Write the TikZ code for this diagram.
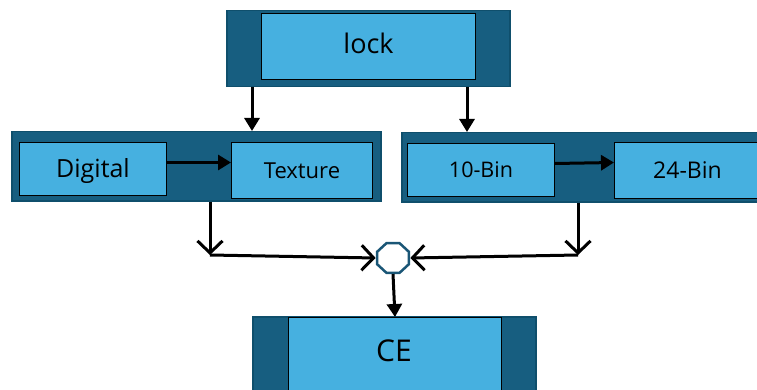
\documentclass[tikz,border=0pt]{standalone}
\usepackage{fontspec}
\setmainfont{Open Sans}
\usetikzlibrary{arrows.meta,shapes.geometric}
\definecolor{outerc}{HTML}{175E80}
\definecolor{outerb}{HTML}{0F4F6C}
\definecolor{innerc}{HTML}{46B0E0}
\definecolor{octc}{HTML}{1A5676}
\tikzset{
  outerbox/.style={draw=outerb, line width=1.5pt, fill=outerc, inner sep=0pt, anchor=north west},
  innerbox/.style={draw=black, line width=1pt, fill=innerc, inner sep=0pt, anchor=north west, text=black, text depth=0pt},
  solidarrow/.style={line width=3pt, -{Triangle[length=13pt,width=15pt]}},
  openarrow/.style={line width=3pt, -{Straight Barb[length=12pt,width=25pt,line width=3pt]}},
}
\begin{document}
\begin{tikzpicture}[x=1pt,y=-1pt]
\useasboundingbox (0,0) rectangle (757,390);
\clip (0,0) rectangle (757,390);
% top
\node[outerbox, minimum width=283pt, minimum height=76pt] (lockout) at (226,10) {};
\node[innerbox, minimum width=214pt, minimum height=66pt, font=\fontsize{27}{30}\selectfont, text height=15pt] (lock) at (261,13) {lock};
% left middle
\node[outerbox, minimum width=369pt, minimum height=69pt] (leftout) at (11,131) {};
\node[innerbox, minimum width=147pt, minimum height=53pt, font=\fontsize{25}{28}\selectfont, text height=17.9pt] (dig) at (19,142) {Digital};
\node[innerbox, minimum width=141pt, minimum height=56pt, font=\fontsize{22}{26}\selectfont, text height=15.7pt] (tex) at (231,142) {Texture};
% right middle
\node[outerbox, minimum width=369pt, minimum height=69pt] (rightout) at (401,132) {};
\node[innerbox, minimum width=147pt, minimum height=53pt, font=\fontsize{21.5}{24}\selectfont, text height=15.4pt] (ten) at (407,143) {10-Bin};
\node[innerbox, minimum width=146pt, minimum height=56pt, font=\fontsize{23}{26}\selectfont, text height=16.4pt] (tf) at (614,142) {24-Bin};
% bottom
\node[outerbox, minimum width=283pt, minimum height=80pt] (ceout) at (252,316) {};
\node[innerbox, minimum width=213pt, minimum height=80pt] (ce) at (288,317) {};
\node[font=\fontsize{30}{34}\selectfont, text depth=0pt, text height=21.4pt, inner sep=0pt] (cetext) at (394,351) {CE};
% octagon
\node[regular polygon, regular polygon sides=8, draw=octc, line width=2.5pt, fill=white, minimum size=32pt, inner sep=0pt, xscale=1.08] (oct) at (393,258) {};
% coordinates
\coordinate (la) at (252,0);
\coordinate (ra) at (467,0);
\coordinate (lj) at (210,255);
\coordinate (rj) at (578,255);
% arrows
\draw[solidarrow] (lockout.south -| la) -- (leftout.north -| la);
\draw[solidarrow] (lockout.south -| ra) -- (rightout.north -| ra);
\draw[solidarrow] ([yshift=6.5pt]dig.east) -- ([yshift=8pt]tex.west);
\draw[solidarrow] ([yshift=6.5pt]ten.east) -- ([yshift=8pt]tf.west);
\draw[openarrow] (leftout.south -| lj) -- (lj);
\draw[openarrow] (rightout.south -| rj) -- (rj);
\draw[openarrow] (lj) -- (oct.west);
\draw[openarrow] (rj) -- (oct.east);
\draw[solidarrow] (oct.south) -- (ce.north);
\end{tikzpicture}
\end{document}
